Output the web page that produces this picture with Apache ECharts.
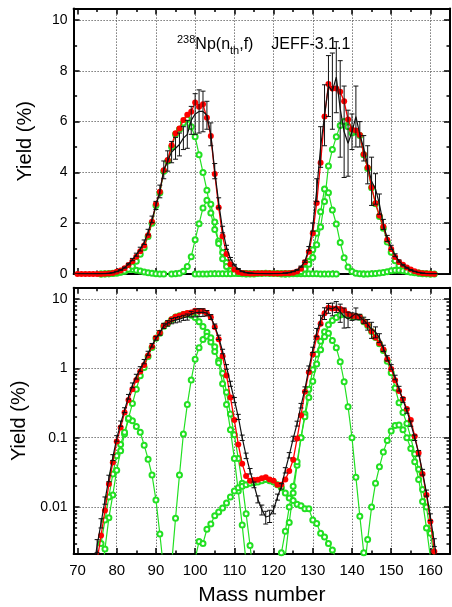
<!DOCTYPE html>
<html><head><meta charset="utf-8">
<script src="https://cdn.jsdelivr.net/npm/echarts@6/dist/echarts.min.js"></script>
<style>html,body{margin:0;padding:0;background:#fff}#c{width:452px;height:607px}</style>
</head><body><div id="c"></div>
<script>
// ---------------- DATA ----------------
// JEFF-3.1.1 evaluated yields (black, with error bars), A = 70 ... 164
const jeffStart = 70;
const jeffYield = [
  0.00003,0.00008,0.0002,0.0005,0.0012,0.0028,0.0059,0.0125,0.026,0.052,
  0.098,0.16,0.25,0.39,0.57,0.76,0.98,1.25,1.65,2.15,
  2.7,3.25,4.1,4.45,4.8,4.95,5.1,5.35,5.5,6.05,
  6.3,6.4,6.4,6.25,5.5,4.05,2.8,1.75,1.05,0.6,
  0.35,0.2,0.1,0.055,0.033,0.021,0.013,0.0092,0.0072,0.0075,
  0.0092,0.014,0.02,0.034,0.056,0.097,0.16,0.29,0.5,1.0,
  1.85,3.3,5.0,6.25,7.4,7.2,7.75,6.5,5.6,5.15,
  5.6,6.2,5.5,4.95,4.3,3.65,3.35,2.75,1.95,1.4,
  1.05,0.74,0.51,0.35,0.245,0.16,0.1,0.06,0.032,0.016,
  0.0072,0.0031,0.0013,0.0005,0.0002
];
const jeffErr = [
  0.000006,0.000016,0.00004,0.0001,0.00024,0.0006,0.0009,0.0015,0.0028,0.005,
  0.009,0.014,0.02,0.03,0.045,0.06,0.075,0.09,0.11,0.13,
  0.16,0.25,0.35,0.4,0.42,0.43,0.45,0.45,0.55,0.55,
  0.8,0.85,0.8,0.55,0.45,0.3,0.2,0.13,0.08,0.05,
  0.03,0.017,0.009,0.005,0.003,0.002,0.0015,0.0015,0.0015,0.0015,
  0.0012,0.0014,0.0018,0.003,0.005,0.008,0.013,0.022,0.04,0.08,
  0.16,0.45,0.8,1.2,1.2,1.5,1.4,1.9,1.8,1.3,
  0.7,1.2,0.5,0.5,0.75,0.95,0.6,0.4,0.2,0.12,
  0.08,0.055,0.04,0.028,0.02,0.014,0.009,0.0055,0.003,0.0016,
  0.0008,0.0004,0.0002,0.0001,0.00004
];
// Model total (red), A = 70 ... 161
const modelStart = 70;
const modelTotal = [
  0.00002,0.00005,0.00013,0.0003,0.0007,0.0017,0.0039,0.0089,0.0215,0.044,
  0.088,0.14,0.23,0.35,0.5,0.68,0.9,1.12,1.53,2.06,
  2.76,3.24,4.09,4.49,5.07,5.54,5.73,6.06,6.27,6.39,
  6.75,6.59,6.68,6.15,5.43,3.94,2.62,1.49,0.79,0.38,
  0.18,0.08,0.042,0.028,0.024,0.0245,0.0248,0.026,0.027,0.025,
  0.024,0.021,0.021,0.025,0.033,0.048,0.097,0.21,0.46,0.88,
  1.6,2.8,4.38,6.2,7.48,7.3,7.3,7.18,6.8,6.08,
  5.69,5.65,5.47,4.72,4.19,3.42,2.79,2.3,1.87,1.35,
  0.98,0.67,0.47,0.36,0.26,0.18,0.105,0.06,0.03,0.015,
  0.0062,0.0023
];
// Fission modes (green)
const modeLight3Start = 76;
const modeLight3 = [0.0008,0.0025,0.007,0.015,0.034,0.065,0.113,0.185,0.176,0.145,0.12,0.078,0.049,0.029,0.0127,0.0041,0.0012];
const modeLight2Start = 76;
const modeLight2 = [0.003,0.0065,0.014,0.03,0.055,0.08,0.12,0.19,0.31,0.5,0.78,1.03,1.48,2.0,2.7,3.2,4.05,4.45,5.0,5.5,5.7,5.95,6.1,5.8,5.4,4.7,4.0,3.3,2.4,1.75,1.3,0.85,0.45,0.22,0.11,0.05,0.022,0.008,0.0028,0.0009];
const modeLight1Start = 94;
const modeLight1 = [0.0015,0.0069,0.029,0.113,0.30,0.68,1.35,1.98,2.6,2.9,2.75,2.05,1.2,0.6,0.3,0.13,0.05,0.017,0.0055,0.0016];
const modeSymStart = 100;
const modeSym = [0.0018,0.0032,0.003,0.0048,0.0057,0.0075,0.0085,0.0097,0.0115,0.014,0.017,0.019,0.02,0.021,0.022,0.0225,0.023,0.024,0.025,0.024,0.023,0.021,0.019,0.016,0.0135,0.0125,0.011,0.0105,0.0095,0.0095,0.0065,0.0058,0.0042,0.0037,0.003,0.0024,0.0018];
const modeHeavy1Start = 123;
const modeHeavy1 = [0.002,0.006,0.016,0.04,0.1,0.22,0.5,0.95,1.6,2.45,3.35,3.2,2.52,1.97,1.24,0.64,0.28,0.1,0.027,0.0074,0.0022];
const modeHeavy2Start = 122;
const modeHeavy2 = [0.0022,0.0045,0.01,0.02,0.045,0.1,0.2,0.38,0.65,1.15,1.85,2.85,4.25,4.9,5.4,5.85,6.0,5.8,5.55,5.6,5.45,4.7,4.15,3.4,2.77,2.26,1.8,1.26,0.86,0.52,0.32,0.23,0.16,0.1,0.058,0.035,0.018,0.01,0.0042,0.0019];
const modeHeavy3Start = 143;
const modeHeavy3 = [0.001,0.0034,0.01,0.022,0.038,0.062,0.091,0.125,0.15,0.152,0.13,0.1,0.07,0.045,0.025,0.012,0.005,0.0019];

// Ticks
const xMajorTicks = [70,80,90,100,110,120,130,140,150,160];
const xMinorTicks = [75,85,95,105,115,125,135,145,155,165];
const xGridValues = [80,90,100,110,120,130,140,150,160];
const yLinTicks = [0,2,4,6,8,10];
const yLinMinor = [1,3,5,7,9];
const yLinGrid = [2,4,6,8,10];
const yLogTicks = [0.01,0.1,1,10];
const yLogMinor = [0.003,0.004,0.005,0.006,0.007,0.008,0.009,
                   0.02,0.03,0.04,0.05,0.06,0.07,0.08,0.09,
                   0.2,0.3,0.4,0.5,0.6,0.7,0.8,0.9,
                   2,3,4,5,6,7,8,9];
const titleParts = {iso:'238', main1:'Np(n', sub:'th', main2:',f)    JEFF-3.1.1'};
const xName = 'Mass number';
const yName = 'Yield (%)';

// ---------------- CHART ----------------
const FONT = '"Liberation Sans", Arial, sans-serif';
const GREEN = '#22e022', RED = '#ff0000';
const X_MIN = 69, X_MAX = 165;
const Y_LIN_MAX = 10.45;
const Y_LOG_MIN = 0.00211, Y_LOG_MAX = 14.5;

function pairs(start, arr) { return arr.map((v, i) => [start + i, v]); }
const jeffTriples = jeffYield.map((v, i) => [jeffStart + i, v, jeffErr[i]]);

const grids = [
  {left: 73.6, top: 8.6, width: 376.4, height: 265.4},
  {left: 73.6, top: 287.7, width: 376.4, height: 266.3}
];

const tickLine = {color: '#000', width: 1.5};
function xAxes(g, withLabels) {
  const base = {type: 'value', gridIndex: g, min: X_MIN, max: X_MAX, axisLabel: {show: false}, splitLine: {show: false}};
  const main = Object.assign({}, base, {
    position: 'bottom',
    axisLine: {show: true, onZero: false, lineStyle: {color: '#000', width: 2}},
    axisTick: {show: true, inside: true, length: 6, customValues: xMajorTicks, lineStyle: tickLine},
    axisLabel: withLabels ? {show: true, customValues: xMajorTicks, color: '#000', fontSize: 15, fontFamily: FONT, margin: 9} : {show: false}
  });
  if (withLabels) {
    main.name = xName; main.nameLocation = 'middle'; main.nameGap = 31;
    main.nameTextStyle = {color: '#000', fontSize: 21, fontFamily: FONT};
  }
  const minorB = Object.assign({}, base, {position: 'bottom', axisLine: {show: false, onZero: false},
    axisTick: {show: true, inside: true, length: 3.5, customValues: xMinorTicks, lineStyle: tickLine}});
  const mainT = Object.assign({}, base, {position: 'top',
    axisLine: {show: true, onZero: false, lineStyle: {color: '#000', width: 2}},
    axisTick: {show: true, inside: true, length: 6, customValues: xMajorTicks, lineStyle: tickLine}});
  const minorT = Object.assign({}, base, {position: 'top', axisLine: {show: false, onZero: false},
    axisTick: {show: true, inside: true, length: 3.5, customValues: xMinorTicks, lineStyle: tickLine}});
  const gridAx = Object.assign({}, base, {position: 'bottom', axisLine: {show: false, onZero: false},
    axisTick: {show: false, customValues: xGridValues},
    splitLine: {show: true, lineStyle: {color: '#333', width: 1, type: [1, 2]}}});
  return [main, minorB, mainT, minorT, gridAx];
}
function yAxes(g, isLog) {
  const majors = isLog ? yLogTicks : yLinTicks;
  const minors = isLog ? yLogMinor : yLinMinor;
  const gridVals = isLog ? yLogTicks : yLinGrid;
  const base = isLog
    ? {type: 'log', logBase: 10, gridIndex: g, min: Y_LOG_MIN, max: Y_LOG_MAX, axisLabel: {show: false}, splitLine: {show: false}}
    : {type: 'value', gridIndex: g, min: 0, max: Y_LIN_MAX, axisLabel: {show: false}, splitLine: {show: false}};
  const main = Object.assign({}, base, {
    position: 'left',
    axisLine: {show: true, onZero: false, lineStyle: {color: '#000', width: 2}},
    axisTick: {show: true, inside: true, length: 6, customValues: majors, lineStyle: tickLine},
    axisLabel: {show: true, customValues: majors, color: '#000', fontSize: 14, fontFamily: FONT, margin: 6,
      formatter: v => String(parseFloat(Number(v).toPrecision(6)))},
    name: yName, nameLocation: 'middle', nameGap: 38,
    nameTextStyle: {color: '#000', fontSize: 20, fontFamily: FONT}
  });
  const minorL = Object.assign({}, base, {position: 'left', axisLine: {show: false, onZero: false},
    axisTick: {show: true, inside: true, length: 3.5, customValues: minors, lineStyle: tickLine}});
  const mainR = Object.assign({}, base, {position: 'right',
    axisLine: {show: true, onZero: false, lineStyle: {color: '#000', width: 2}},
    axisTick: {show: true, inside: true, length: 6, customValues: majors, lineStyle: tickLine}});
  const minorR = Object.assign({}, base, {position: 'right', axisLine: {show: false, onZero: false},
    axisTick: {show: true, inside: true, length: 3.5, customValues: minors, lineStyle: tickLine}});
  const gridAx = Object.assign({}, base, {position: 'left', axisLine: {show: false, onZero: false},
    axisTick: {show: false, customValues: gridVals},
    splitLine: {show: true, lineStyle: {color: '#333', width: 1, type: [1, 2]}}});
  return [main, minorL, mainR, minorR, gridAx];
}

function errRender(params, api) {
  const x = api.value(0), v = api.value(1), e = api.value(2);
  const top = api.coord([x, v + e]);
  const bot = api.coord([x, v - e]);
  const w = 2.5;
  const st = {stroke: '#111', lineWidth: 1};
  return {type: 'group', children: [
    {type: 'line', shape: {x1: top[0], y1: top[1], x2: bot[0], y2: bot[1]}, style: st},
    {type: 'line', shape: {x1: top[0] - w, y1: top[1], x2: top[0] + w, y2: top[1]}, style: st},
    {type: 'line', shape: {x1: bot[0] - w, y1: bot[1], x2: bot[0] + w, y2: bot[1]}, style: st}
  ]};
}

const modes = [
  [modeLight3Start, modeLight3], [modeLight2Start, modeLight2], [modeLight1Start, modeLight1],
  [modeSymStart, modeSym], [modeHeavy1Start, modeHeavy1], [modeHeavy2Start, modeHeavy2], [modeHeavy3Start, modeHeavy3]
];
function panelSeries(xi, yi) {
  const out = [];
  modes.forEach(([s, arr]) => out.push({
    type: 'line', xAxisIndex: xi, yAxisIndex: yi, data: pairs(s, arr),
    symbol: 'emptyCircle', symbolSize: 5,
    lineStyle: {color: GREEN, width: 1.2},
    itemStyle: {color: GREEN, borderColor: GREEN, borderWidth: 1.1},
    z: 2, clip: true
  }));
  out.push({type: 'line', xAxisIndex: xi, yAxisIndex: yi, data: pairs(modelStart, modelTotal),
    symbol: 'circle', symbolSize: 6, lineStyle: {color: RED, width: 1.3},
    itemStyle: {color: RED}, z: 3, clip: true});
  out.push({type: 'line', xAxisIndex: xi, yAxisIndex: yi, data: jeffTriples.map(d => [d[0], d[1]]),
    symbol: 'none', lineStyle: {color: '#111', width: 1.2}, z: 4, clip: true});
  out.push({type: 'custom', xAxisIndex: xi, yAxisIndex: yi, data: jeffTriples,
    encode: {x: 0, y: 1}, renderItem: errRender, z: 5, clip: true});
  return out;
}

const richBase = {fontFamily: FONT, color: '#000', fontWeight: 'normal'};
const option = {
  animation: false,
  backgroundColor: '#fff',
  textStyle: {fontFamily: FONT},
  title: {
    text: '{sup|' + titleParts.iso + '}{n|' + titleParts.main1 + '}{sub|' + titleParts.sub + '}{n|' + titleParts.main2 + '}',
    left: 172, top: 29,
    textStyle: {fontWeight: 'normal', rich: {
      n: Object.assign({fontSize: 16, lineHeight: 22}, richBase),
      sup: Object.assign({fontSize: 11, verticalAlign: 'top', lineHeight: 11}, richBase),
      sub: Object.assign({fontSize: 11, verticalAlign: 'bottom', lineHeight: 11}, richBase)
    }}
  },
  grid: grids,
  xAxis: [].concat(xAxes(0, false), xAxes(1, true)),
  yAxis: [].concat(yAxes(0, false), yAxes(1, true)),
  series: [].concat(panelSeries(0, 0), panelSeries(5, 5))
};

const chart = echarts.init(document.getElementById('c'));
chart.setOption(option);
</script>
</body></html>
